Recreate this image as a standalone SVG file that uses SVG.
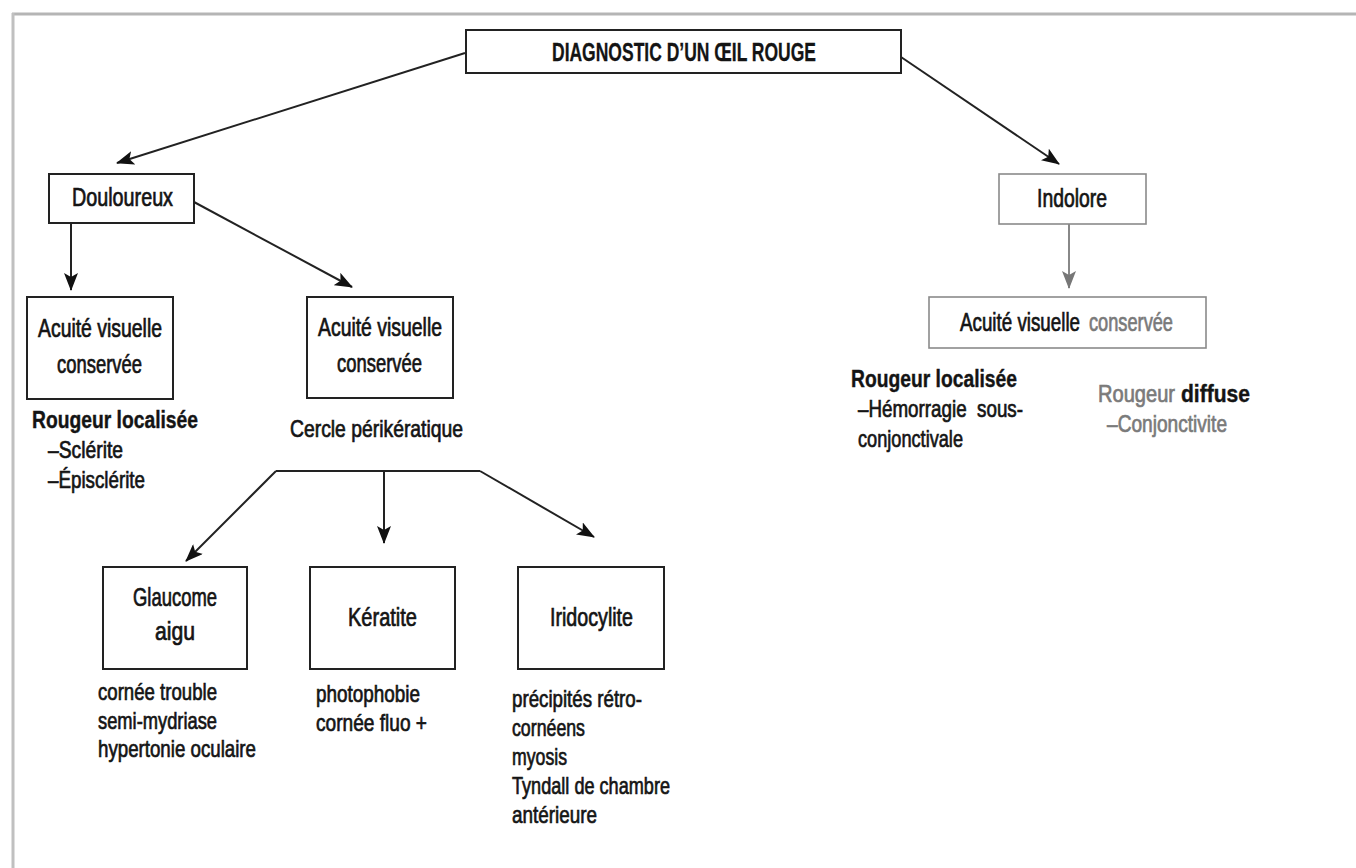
<svg xmlns="http://www.w3.org/2000/svg" width="1356" height="868" viewBox="0 0 1356 868">
<style>
text{font-family:"Liberation Sans",Arial,sans-serif;font-size:24px;fill:#141414;stroke:#141414;stroke-width:0.7}
.k{font-size:25px}
.b{font-weight:bold;stroke-width:0.4}
.t{font-size:26px;font-weight:bold;stroke-width:0.3}
.g{fill:#7a7a7a;stroke:#7a7a7a}
.box{fill:#fff;stroke:#222;stroke-width:2}
.lbox{fill:#fff;stroke:#8a8a8a;stroke-width:1.6}
.ln{fill:none;stroke:#222;stroke-width:2}
.gl{fill:none;stroke:#888;stroke-width:2}
</style>
<defs>
<marker id="ah" markerUnits="userSpaceOnUse" markerWidth="18" markerHeight="14" viewBox="0 0 18 14" refX="17" refY="7" orient="auto">
<path d="M0,0 L18,7 L0,14 L4,7 Z" fill="#111"/>
</marker>
<marker id="ahg" markerUnits="userSpaceOnUse" markerWidth="18" markerHeight="14" viewBox="0 0 18 14" refX="17" refY="7" orient="auto">
<path d="M0,0 L18,7 L0,14 L4,7 Z" fill="#777"/>
</marker>
</defs>
<rect width="1356" height="868" fill="#fff"/>
<g id="frame">
<line x1="12" y1="14" x2="1356" y2="14" stroke="#b5b5b5" stroke-width="3"/>
<line x1="13" y1="13" x2="13" y2="868" stroke="#c0c0c0" stroke-width="3"/>
</g>
<g id="connectors">
<line class="ln" x1="465" y1="53" x2="117" y2="163" marker-end="url(#ah)"/>
<line class="ln" x1="901" y1="57" x2="1059" y2="164" marker-end="url(#ah)"/>
<line class="ln" x1="71" y1="223" x2="71" y2="290" marker-end="url(#ah)"/>
<line class="ln" x1="194" y1="202" x2="352" y2="287" marker-end="url(#ah)"/>
<line class="gl" x1="1069" y1="224" x2="1069" y2="288" marker-end="url(#ahg)"/>
<line class="ln" x1="276" y1="471" x2="480" y2="471"/>
<line class="ln" x1="276" y1="471" x2="186" y2="561" marker-end="url(#ah)"/>
<line class="ln" x1="480" y1="471" x2="594" y2="537" marker-end="url(#ah)"/>
<line class="ln" x1="384" y1="471" x2="384" y2="543" marker-end="url(#ah)"/>
</g>
<g id="n-title">
<rect class="box" x="466" y="30" width="435" height="43"/>
<text class="t" x="552" y="61" textLength="264" lengthAdjust="spacingAndGlyphs">DIAGNOSTIC D’UN ŒIL ROUGE</text>
</g>
<g id="n-douloureux">
<rect class="box" x="49" y="174" width="145" height="49"/>
<text class="k" x="72" y="206" textLength="101" lengthAdjust="spacingAndGlyphs">Douloureux</text>
</g>
<g id="n-indolore">
<rect class="lbox" x="999" y="174" width="147" height="50"/>
<text class="k" x="1037" y="207" textLength="70" lengthAdjust="spacingAndGlyphs">Indolore</text>
</g>
<g id="n-av1">
<rect class="box" x="27" y="297" width="146" height="102"/>
<text class="k" x="38" y="337" textLength="124" lengthAdjust="spacingAndGlyphs">Acuité visuelle</text>
<text class="k" x="57" y="373" textLength="85" lengthAdjust="spacingAndGlyphs">conservée</text>
</g>
<g id="t-rl1">
<text class="b" x="32" y="428" textLength="166" lengthAdjust="spacingAndGlyphs">Rougeur localisée</text>
<text x="48" y="458" textLength="75" lengthAdjust="spacingAndGlyphs">–Sclérite</text>
<text x="48" y="488" textLength="97" lengthAdjust="spacingAndGlyphs">–Épisclérite</text>
</g>
<g id="n-av2">
<rect class="box" x="307" y="297" width="146" height="101"/>
<text class="k" x="318" y="336" textLength="124" lengthAdjust="spacingAndGlyphs">Acuité visuelle</text>
<text class="k" x="337" y="372" textLength="85" lengthAdjust="spacingAndGlyphs">conservée</text>
</g>
<g id="t-cercle">
<text x="290" y="437" textLength="173" lengthAdjust="spacingAndGlyphs">Cercle périkératique</text>
</g>
<g id="n-av3">
<rect class="lbox" x="929" y="297" width="277" height="51"/>
<text class="k" x="960" y="331"><tspan textLength="120" lengthAdjust="spacingAndGlyphs">Acuité visuelle</tspan><tspan class="g" x="1089" textLength="84" lengthAdjust="spacingAndGlyphs">conservée</tspan></text>
</g>
<g id="t-rl2">
<text class="b" x="851" y="387" textLength="166" lengthAdjust="spacingAndGlyphs">Rougeur localisée</text>
<text x="858" y="417" textLength="165" lengthAdjust="spacingAndGlyphs" xml:space="preserve">–Hémorragie  sous-</text>
<text x="858" y="447" textLength="105" lengthAdjust="spacingAndGlyphs">conjonctivale</text>
</g>
<g id="t-rd">
<text x="1098" y="402"><tspan class="g" textLength="77" lengthAdjust="spacingAndGlyphs">Rougeur</tspan><tspan class="b" x="1181" textLength="69" lengthAdjust="spacingAndGlyphs">diffuse</tspan></text>
<text class="g" x="1107" y="432" textLength="120" lengthAdjust="spacingAndGlyphs">–Conjonctivite</text>
</g>
<g id="n-glaucome">
<rect class="box" x="103" y="567" width="144" height="102"/>
<text class="k" x="133" y="606" textLength="84" lengthAdjust="spacingAndGlyphs">Glaucome</text>
<text class="k" x="155" y="640" textLength="40" lengthAdjust="spacingAndGlyphs">aigu</text>
</g>
<g id="t-glaucome">
<text x="98" y="700" textLength="119" lengthAdjust="spacingAndGlyphs">cornée trouble</text>
<text x="98" y="729" textLength="119" lengthAdjust="spacingAndGlyphs">semi-mydriase</text>
<text x="98" y="757" textLength="158" lengthAdjust="spacingAndGlyphs">hypertonie oculaire</text>
</g>
<g id="n-keratite">
<rect class="box" x="310" y="567" width="145" height="102"/>
<text class="k" x="348" y="626" textLength="69" lengthAdjust="spacingAndGlyphs">Kératite</text>
</g>
<g id="t-keratite">
<text x="316" y="702" textLength="104" lengthAdjust="spacingAndGlyphs">photophobie</text>
<text x="316" y="731" textLength="111" lengthAdjust="spacingAndGlyphs">cornée fluo +</text>
</g>
<g id="n-iridocylite">
<rect class="box" x="518" y="567" width="146" height="102"/>
<text class="k" x="550" y="626" textLength="83" lengthAdjust="spacingAndGlyphs">Iridocylite</text>
</g>
<g id="t-iridocylite">
<text x="512" y="707" textLength="130" lengthAdjust="spacingAndGlyphs">précipités rétro-</text>
<text x="512" y="736" textLength="73" lengthAdjust="spacingAndGlyphs">cornéens</text>
<text x="512" y="765" textLength="55" lengthAdjust="spacingAndGlyphs">myosis</text>
<text x="512" y="794" textLength="158" lengthAdjust="spacingAndGlyphs">Tyndall de chambre</text>
<text x="512" y="823" textLength="85" lengthAdjust="spacingAndGlyphs">antérieure</text>
</g>
</svg>
